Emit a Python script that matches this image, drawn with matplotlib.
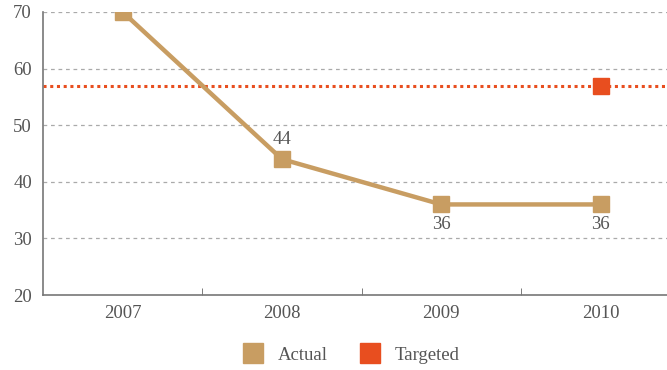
import matplotlib.pyplot as plt
from matplotlib.lines import Line2D

years = ["2007", "2008", "2009", "2010"]
actual = [70, 44, 36, 36]
targeted = 57
labelled = {1: "above", 2: "below", 3: "below"}

tan = "#C89D62"
orange = "#E84E1F"
grey = "#555555"
fs = 13.5

plt.rcParams["font.family"] = ["Liberation Serif", "DejaVu Serif"]

fig = plt.figure(figsize=(6.67, 3.70), dpi=100)
ax = fig.add_axes([43 / 667, 1 - 295 / 370, 1 - 43 / 667, (295 - 12) / 370])

x = list(range(len(years)))
ax.axhline(targeted, color=orange, lw=2.2, ls=(0, (1, 1.2)), zorder=2)
ax.plot(x, actual, color=tan, lw=3.2, marker="s", ms=11.5, zorder=3)
ax.plot([x[-1]], [targeted], color=orange, marker="s", ms=11.5, ls="none", zorder=4)

for i, pos in labelled.items():
    if pos == "above":
        ax.annotate(str(actual[i]), (x[i], actual[i]), xytext=(0, 8), textcoords="offset points",
                    ha="center", va="bottom", fontsize=fs, color=grey)
    else:
        ax.annotate(str(actual[i]), (x[i], actual[i]), xytext=(0, -8), textcoords="offset points",
                    ha="center", va="top", fontsize=fs, color=grey)

ax.set_xlim(-0.5, 3.417)
ax.set_ylim(20, 70)
ax.set_yticks([20, 30, 40, 50, 60, 70])
ax.set_xticks(x)
ax.set_xticklabels(years)
ax.set_xticks([0.5, 1.5, 2.5], minor=True)
ax.tick_params(axis="x", which="major", length=0, pad=7, labelsize=fs, labelcolor=grey)
ax.tick_params(axis="x", which="minor", direction="in", length=5, color="#666666")
ax.tick_params(axis="y", length=0, pad=8, labelsize=fs, labelcolor=grey)

for y in [30, 40, 50, 60, 70]:
    ax.axhline(y, color="#AAAAAA", lw=0.9, ls=(0, (3, 3)), zorder=1)

for s in ["top", "right"]:
    ax.spines[s].set_visible(False)
for s in ["left", "bottom"]:
    ax.spines[s].set_color("#777777")
    ax.spines[s].set_linewidth(1.2)

handles = [
    Line2D([], [], color=tan, marker="s", ms=14, ls="none"),
    Line2D([], [], color=orange, marker="s", ms=14, ls="none"),
]
fig.legend(handles, ["Actual", "Targeted"], loc="center", bbox_to_anchor=(0.52, 0.04),
           ncol=2, frameon=False, fontsize=fs, labelcolor=grey, handletextpad=0.3,
           columnspacing=1.25)

fig.savefig("out.png", dpi=100)
